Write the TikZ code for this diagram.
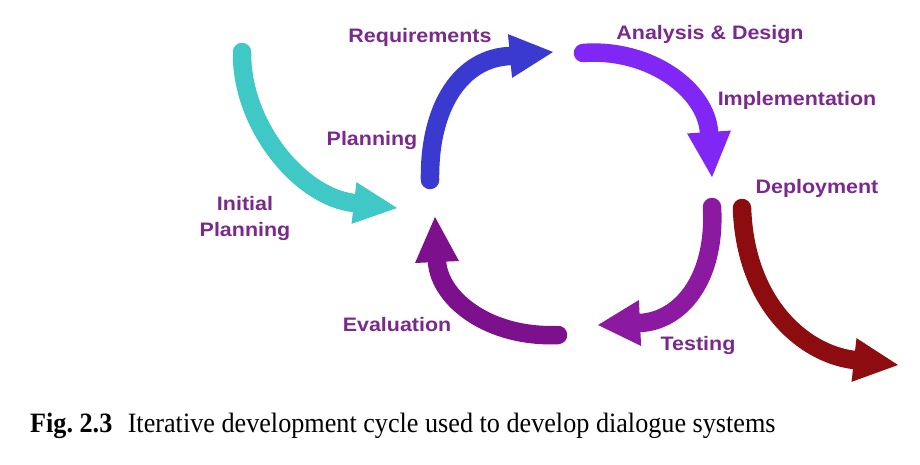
\documentclass[tikz,border=0pt]{standalone}
\usepackage{fontspec}
\usetikzlibrary{calc}
\newfontfamily\labfont[FakeStretch=1.1]{Liberation Sans}
\newfontfamily\capfont[FakeStretch=0.935]{Liberation Serif}
\definecolor{cyanA}{RGB}{64,200,198}
\definecolor{blueA}{RGB}{58,58,208}
\definecolor{violetA}{RGB}{128,38,245}
\definecolor{purpleA}{RGB}{140,26,160}
\definecolor{purpleB}{RGB}{125,16,140}
\definecolor{redA}{RGB}{140,12,16}
\definecolor{labcol}{RGB}{122,42,140}
\begin{document}
\begin{tikzpicture}[x=1pt,y=-1pt,
  lab/.style={text=labcol,font=\labfont\bfseries\fontsize{19.5}{26}\selectfont,inner sep=0pt,align=center},
  shaft/.style={line width=18.5pt,line cap=round},
]
\useasboundingbox (0,0) rectangle (920,464);
\fill[white] (0,0) rectangle (920,464);

% cyan: initial planning
\coordinate (cS) at (242,52); \coordinate (cB) at (354,203); \coordinate (cT) at (397,208);
\draw[shaft,cyanA] (cS) .. controls (241,125) and (300,197) .. (cB);
\fill[cyanA] ($(cB)!21pt!90:(cT)$) -- (cT) -- ($(cB)!21pt!-90:(cT)$) -- cycle;

% blue: planning -> requirements
\coordinate (bS) at (430,180); \coordinate (bB) at (510,56); \coordinate (bT) at (553,52);
\draw[shaft,blueA] (bS) .. controls (429,105) and (462,58) .. (bB);
\fill[blueA] ($(bB)!22pt!90:(bT)$) -- (bT) -- ($(bB)!22pt!-90:(bT)$) -- cycle;

% violet: analysis & design -> implementation
\coordinate (vS) at (583,53); \coordinate (vB) at (709,132); \coordinate (vT) at (712,177);
\draw[shaft,violetA] (vS) .. controls (650,48) and (706,90) .. (vB);
\fill[violetA] ($(vB)!22pt!90:(vT)$) -- (vT) -- ($(vB)!22pt!-90:(vT)$) -- cycle;

% purple: testing
\coordinate (tS) at (712,207); \coordinate (tB) at (640,323); \coordinate (tT) at (598,325);
\draw[shaft,purpleA] (tS) .. controls (716,280) and (680,321) .. (tB);
\fill[purpleA] ($(tB)!23pt!90:(tT)$) -- (tT) -- ($(tB)!23pt!-90:(tT)$) -- cycle;

% dark red: deployment
\coordinate (dS) at (742,208); \coordinate (dB) at (854,360); \coordinate (dT) at (898,365);
\draw[shaft,redA] (dS) .. controls (745,300) and (800,353) .. (dB);
\fill[redA] ($(dB)!22pt!90:(dT)$) -- (dT) -- ($(dB)!22pt!-90:(dT)$) -- cycle;

% purple: evaluation
\coordinate (eS) at (558,335); \coordinate (eB) at (437,262); \coordinate (eT) at (435,217);
\draw[shaft,purpleB] (eS) .. controls (490,338) and (440,300) .. (eB);
\fill[purpleB] ($(eB)!22pt!90:(eT)$) -- (eT) -- ($(eB)!22pt!-90:(eT)$) -- cycle;

% labels
\node[lab] (req) at (420,37) {Requirements};
\node[lab] (plan) at (372,140) {Planning};
\node[lab] (init) at (245,218) {Initial\\Planning};
\node[lab] (ana) at (710,34) {Analysis \& Design};
\node[lab] (imp) at (797,100) {Implementation};
\node[lab] (dep) at (817,188) {Deployment};
\node[lab] (tst) at (698,345) {Testing};
\node[lab] (eva) at (397,325) {Evaluation};

% caption
\node[anchor=base west,inner sep=0pt,font=\capfont\fontsize{28}{30}\selectfont] (cap) at (30,432)
  {{\bfseries Fig.\ 2.3}\hspace{0.55em}Iterative development cycle used to develop dialogue systems};
\end{tikzpicture}
\end{document}
